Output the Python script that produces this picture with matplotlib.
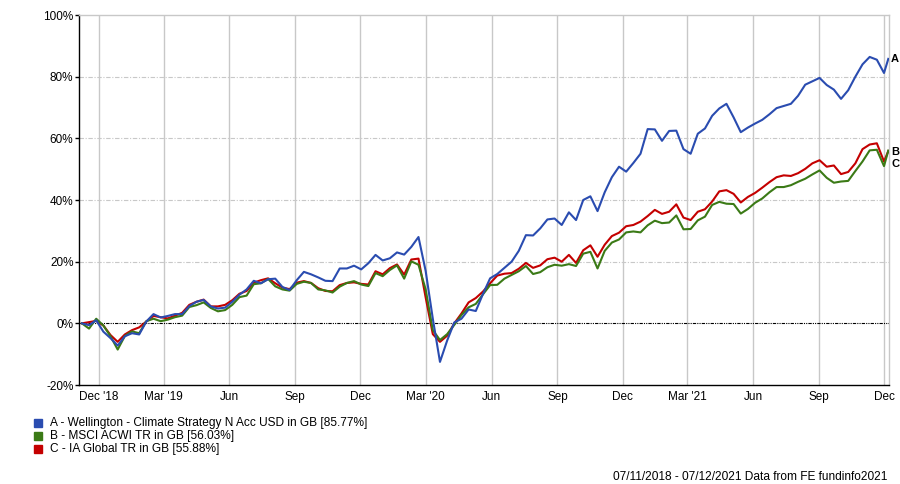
import numpy as np
import pandas as pd
import matplotlib
matplotlib.use("Agg")
import matplotlib.pyplot as plt
import matplotlib.dates as mdates
from matplotlib.ticker import FuncFormatter

plt.rcParams['font.family'] = ['Liberation Sans', 'DejaVu Sans']

# 10-day sampling of the cumulative performance (%), plus the final day
dates = list(pd.date_range('2018-11-07', periods=113, freq='10D')) + [pd.Timestamp('2021-12-07')]

fund_a = [
    0.0, -0.6, 1.0, -2.7, -4.8, -7.2, -4.2, -3.2, -3.6, 0.6,
    3.0, 1.9, 2.4, 3.0, 3.0, 5.6, 7.0, 7.6, 5.5, 4.8,
    5.1, 7.0, 9.3, 11.0, 13.8, 13.0, 14.3, 14.5, 11.8, 10.8,
    14.0, 16.7, 15.9, 14.9, 13.8, 13.7, 17.8, 17.8, 18.7, 17.5,
    19.5, 22.2, 20.4, 21.1, 23.0, 22.3, 24.8, 28.0, 17.0, 1.5,
    -12.5, -5.6, 0.3, 1.5, 4.5, 4.0, 9.5, 14.6, 16.0, 18.0,
    20.0, 23.5, 28.6, 28.5, 30.8, 33.7, 34.0, 31.9, 36.0, 33.5,
    40.0, 41.2, 36.4, 42.5, 47.4, 50.8, 49.2, 52.0, 55.0, 63.0,
    62.9, 59.2, 62.4, 62.5, 56.5, 55.0, 61.5, 63.2, 67.3, 69.7,
    71.2, 66.8, 62.0, 63.5, 64.8, 66.0, 67.8, 69.8, 70.5, 71.2,
    73.8, 77.4, 78.5, 79.6, 77.3, 75.8, 72.8, 75.6, 80.0, 84.0,
    86.4, 85.5, 81.2, 85.77,
]

index_b = [
    0.0, -1.7, 1.5, -0.7, -4.2, -8.5, -4.1, -2.6, -3.2, 0.7,
    1.5, 0.7, 1.2, 2.0, 2.5, 5.3, 5.9, 6.8, 5.0, 3.9,
    4.3, 6.0, 8.5, 9.0, 12.7, 13.0, 14.4, 12.0, 11.0, 10.6,
    12.8, 13.5, 13.1, 11.0, 10.7, 10.0, 11.9, 13.1, 13.7, 12.6,
    12.1, 16.3, 15.3, 17.3, 18.8, 14.5, 20.1, 19.0, 11.0, -2.2,
    -5.4, -3.5, -0.5, 2.7, 5.2, 6.3, 9.4, 12.4, 12.5, 14.5,
    15.7, 16.9, 18.6, 16.0, 16.6, 18.2, 19.0, 18.7, 19.2, 18.6,
    22.6, 23.2, 17.8, 23.5, 26.2, 27.2, 29.5, 29.8, 29.5, 31.8,
    33.3, 32.5, 32.7, 35.0, 30.5, 30.6, 33.4, 34.6, 38.4, 39.4,
    38.8, 38.7, 35.6, 37.1, 39.1, 40.5, 42.5, 44.2, 44.2, 44.8,
    45.9, 46.9, 48.3, 49.6, 47.2, 45.6, 46.0, 46.2, 49.4, 52.5,
    56.1, 56.3, 51.0, 56.03,
]

sector_c = [
    0.0, 0.4, 0.8, -0.7, -3.8, -6.0, -3.6, -2.2, -1.3, 0.6,
    2.4, 2.0, 1.6, 2.5, 3.4, 6.0, 7.0, 7.7, 5.5, 5.5,
    6.0, 7.5, 9.6, 10.5, 13.2, 14.0, 14.6, 13.0, 11.6, 11.1,
    13.2, 13.7, 13.1, 11.4, 10.5, 10.4, 12.4, 13.1, 13.3, 12.8,
    12.6, 16.9, 15.9, 17.9, 19.1, 15.8, 20.7, 21.0, 8.4, -3.5,
    -6.0, -4.0, 0.0, 3.2, 6.8, 8.2, 10.3, 13.0, 15.5, 16.1,
    16.3, 17.7, 19.6, 18.0, 18.8, 20.8, 21.3, 20.0, 22.2, 19.6,
    23.7, 25.3, 21.6, 25.5, 28.3, 29.4, 31.5, 31.9, 33.0, 34.8,
    36.8, 35.5, 36.2, 38.6, 34.3, 33.5, 36.2, 37.0, 39.5, 42.8,
    43.2, 42.0, 39.2, 41.0, 42.3, 44.0, 45.8, 47.4, 48.0, 47.8,
    48.7, 50.1, 51.9, 52.9, 50.8, 51.2, 48.4, 49.1, 51.9, 56.5,
    58.0, 58.4, 52.5, 55.88,
]

series_names = [
    'A - Wellington - Climate Strategy N Acc USD in GB [85.77%]',
    'B - MSCI ACWI TR in GB [56.03%]',
    'C - IA Global TR in GB [55.88%]',
]
colors = ['#2a4cb0', '#3b7a16', '#c40000']

tick_dates = pd.to_datetime([
    '2018-12-01', '2019-03-01', '2019-06-01', '2019-09-01', '2019-12-01',
    '2020-03-01', '2020-06-01', '2020-09-01', '2020-12-01',
    '2021-03-01', '2021-06-01', '2021-09-01', '2021-12-01',
])
tick_labels = ["Dec '18", "Mar '19", 'Jun', 'Sep', 'Dec', "Mar '20", 'Jun', 'Sep',
               'Dec', "Mar '21", 'Jun', 'Sep', 'Dec']

fig = plt.figure(figsize=(9, 4.84), dpi=100)
ax = fig.add_axes([0.0878, 0.2045, 0.9, 0.7645])

grey = '#c8c8c8'
for d in tick_dates:
    ax.axvline(d, color=grey, lw=1, zorder=0)
for yv in [20, 40, 60, 80]:
    ax.axhline(yv, color=grey, lw=0.8, dashes=(4, 1.5, 1, 1.5), zorder=0)
ax.axhline(0, color='black', lw=0.8, dashes=(3, 1, 1, 1, 1, 1), zorder=1)

# draw C, then B, then A on top
order = [2, 1, 0]
data = [fund_a, index_b, sector_c]
for k in order:
    ax.plot(dates, data[k], color=colors[k], lw=1.5, zorder=3 + (2 - k))

ax.set_xlim(pd.Timestamp('2018-11-03'), pd.Timestamp('2021-12-08'))
ax.set_ylim(-20, 100)
ax.set_yticks(range(-20, 101, 20))
ax.yaxis.set_major_formatter(FuncFormatter(lambda v, p: f'{v:.0f}%'))
ax.set_xticks(tick_dates)
ax.set_xticklabels(tick_labels)
ax.tick_params(axis='x', length=0, labelsize=8.5, pad=4)
ax.tick_params(axis='y', length=3, width=1, labelsize=8.5, pad=1)

for s in ['top', 'right']:
    ax.spines[s].set_color(grey)
    ax.spines[s].set_linewidth(1)
for s in ['left', 'bottom']:
    ax.spines[s].set_color('black')
    ax.spines[s].set_linewidth(1)

# end labels
last = dates[-1]
ax.annotate('A', (last, fund_a[-1]), xytext=(2, 0), textcoords='offset points',
            ha='left', va='center', fontsize=8, fontweight='bold', clip_on=False)
ax.annotate('B', (last, index_b[-1]), xytext=(2, -1), textcoords='offset points',
            ha='left', va='center', fontsize=8, fontweight='bold', clip_on=False)
ax.annotate('C', (last, sector_c[-1]), xytext=(2, -9), textcoords='offset points',
            ha='left', va='center', fontsize=8, fontweight='bold', clip_on=False)

# legend
for i, name in enumerate(series_names):
    y = 1 - (423 + 13 * i) / 484
    fig.patches.append(plt.Rectangle((34 / 900, y - 3.5 / 484), 8 / 900, 8 / 484,
                                     transform=fig.transFigure, color=colors[i]))
    fig.text(50 / 900, y, name, fontsize=8.6, va='center', ha='left')

fig.text(887 / 900, 1 - 477 / 484, '07/11/2018 - 07/12/2021 Data from FE fundinfo2021',
         fontsize=8.6, ha='right', va='center')

fig.savefig('out.png', dpi=100)
